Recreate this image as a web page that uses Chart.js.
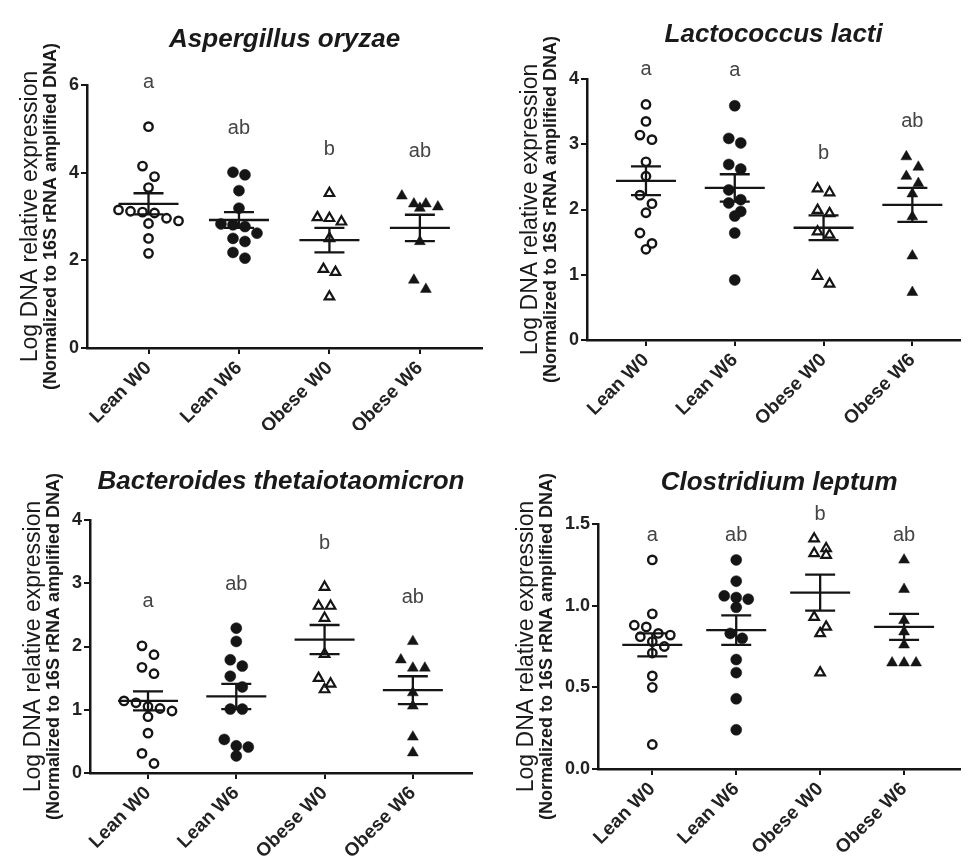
<!DOCTYPE html>
<html>
<head>
<meta charset="utf-8">
<script src="https://cdn.jsdelivr.net/npm/chart.js@4.4.1/dist/chart.umd.min.js"></script>
<style>
  body { margin: 0; background: #fff; }
  #lienzo { position: relative; width: 968px; height: 862px; background: #fff; }
  canvas { position: absolute; }
</style>
</head>
<body>
<div id="lienzo">
  <canvas id="c1" width="490" height="430" style="left:0;top:0"></canvas>
  <canvas id="c2" width="478" height="430" style="left:490px;top:0"></canvas>
  <canvas id="c3" width="490" height="432" style="left:0;top:430px"></canvas>
  <canvas id="c4" width="478" height="432" style="left:490px;top:430px"></canvas>
</div>
<script>
var grupos = ['Lean W0', 'Lean W6', 'Obese W0', 'Obese W6'];
var tituloY1 = 'Log DNA relative expression';
var tituloY2 = '(Normalized to 16S rRNA amplified DNA)';

// Aspergillus oryzae
var aoLeanW0 = [5.05, 4.15, 3.91, 3.66, 3.15, 3.12, 3.10, 3.08, 2.96, 2.90, 2.84, 2.50, 2.16];
var aoLeanW6 = [4.01, 3.95, 3.59, 3.19, 2.83, 2.81, 2.77, 2.62, 2.50, 2.43, 2.18, 2.05];
var aoObeseW0 = [3.53, 2.98, 2.96, 2.88, 2.50, 1.80, 1.73, 1.17];
var aoObeseW6 = [3.47, 3.29, 3.29, 3.22, 3.19, 2.43, 1.55, 1.34];
var aoMedia = [3.29, 2.92, 2.46, 2.74];
var aoSem = [0.24, 0.18, 0.28, 0.30];
var aoLetras = ['a', 'ab', 'b', 'ab'];

// Lactococcus lacti
var llLeanW0 = [3.61, 3.35, 3.14, 3.07, 2.73, 2.51, 2.22, 2.09, 1.95, 1.64, 1.48, 1.39];
var llLeanW6 = [3.59, 3.09, 3.02, 2.69, 2.62, 2.30, 2.15, 2.10, 1.97, 1.90, 1.64, 0.92];
var llObeseW0 = [2.32, 2.26, 1.99, 1.94, 1.66, 1.61, 0.98, 0.86];
var llObeseW6 = [2.81, 2.65, 2.51, 2.40, 2.24, 1.89, 1.29, 0.73];
var llMedia = [2.44, 2.33, 1.72, 2.07];
var llSem = [0.22, 0.21, 0.19, 0.26];
var llLetras = ['a', 'a', 'b', 'ab'];

// Bacteroides thetaiotaomicron
var btLeanW0 = [2.01, 1.87, 1.67, 1.57, 1.14, 1.11, 1.05, 1.02, 0.98, 0.89, 0.63, 0.31, 0.15];
var btLeanW6 = [2.29, 2.08, 1.79, 1.69, 1.53, 1.36, 1.01, 1.01, 0.53, 0.43, 0.41, 0.27];
var btObeseW0 = [2.94, 2.64, 2.64, 2.45, 1.88, 1.50, 1.41, 1.32];
var btObeseW6 = [2.08, 1.79, 1.66, 1.66, 1.27, 1.06, 0.57, 0.32];
var btMedia = [1.14, 1.21, 2.11, 1.31];
var btSem = [0.15, 0.20, 0.23, 0.22];
var btLetras = ['a', 'ab', 'b', 'ab'];

// Clostridium leptum
var clLeanW0 = [1.28, 0.95, 0.88, 0.87, 0.83, 0.82, 0.81, 0.78, 0.75, 0.71, 0.57, 0.50, 0.15];
var clLeanW6 = [1.28, 1.15, 1.06, 1.05, 1.04, 0.99, 0.83, 0.80, 0.67, 0.59, 0.43, 0.24];
var clObeseW0 = [1.41, 1.35, 1.32, 1.31, 0.93, 0.87, 0.83, 0.59];
var clObeseW6 = [1.28, 1.10, 0.91, 0.84, 0.76, 0.65, 0.65, 0.65];
var clMedia = [0.76, 0.85, 1.08, 0.87];
var clSem = [0.07, 0.09, 0.11, 0.08];
var clLetras = ['a', 'ab', 'b', 'ab'];

var FUENTE = '"Liberation Sans", Arial, sans-serif';
var NEGRO = '#151515';
var SEP_X = 12;  // separacion horizontal en una fila del enjambre (px)
var SEP_Y = 11;  // puntos mas cerca que esto en vertical comparten fila (px)

Chart.defaults.font.family = FUENTE;

// marcador de cada grupo
var marcadores = [
    { pointStyle: 'circle', radius: 4.2, bg: 'rgba(0,0,0,0)', bw: 2.4 },
    { pointStyle: 'circle', radius: 5.5, bg: NEGRO, bw: 0.5 },
    { pointStyle: 'triangle', radius: 5.5, bg: 'rgba(0,0,0,0)', bw: 2.2 },
    { pointStyle: 'triangle', radius: 6.3, bg: NEGRO, bw: 0.5 }
];

var paneles = [
    { id: 'c1', titulo: 'Aspergillus oryzae', series: [aoLeanW0, aoLeanW6, aoObeseW0, aoObeseW6],
      medias: aoMedia, sems: aoSem, letras: aoLetras, ymax: 6, paso: 2, dec: 0,
      xmin: 0.32, xmax: 4.69, anchoY: 87, altoX: 82, derecha: 3, tCentro: 40, arriba: 85, sepLetra: 44 },
    { id: 'c2', titulo: 'Lactococcus lacti', series: [llLeanW0, llLeanW6, llObeseW0, llObeseW6],
      medias: llMedia, sems: llSem, letras: llLetras, ymax: 4, paso: 1, dec: 0,
      xmin: 0.336, xmax: 4.54, anchoY: 97, altoX: 90, derecha: 1, tCentro: 35, arriba: 79, sepLetra: 35 },
    { id: 'c3', titulo: 'Bacteroides thetaiotaomicron', series: [btLeanW0, btLeanW6, btObeseW0, btObeseW6],
      medias: btMedia, sems: btSem, letras: btLetras, ymax: 4, paso: 1, dec: 0,
      xmin: 0.343, xmax: 4.67, anchoY: 90, altoX: 89, derecha: 18, tCentro: 52, arriba: 90, sepLetra: 44 },
    { id: 'c4', titulo: 'Clostridium leptum', series: [clLeanW0, clLeanW6, clObeseW0, clObeseW6],
      medias: clMedia, sems: clSem, letras: clLetras, ymax: 1.5, paso: 0.5, dec: 1,
      xmin: 0.353, xmax: 4.67, anchoY: 108, altoX: 93, derecha: 3, tCentro: 53, arriba: 94, sepLetra: 24 }
];

// media +/- SEM y letras de significancia
var pluginMedias = {
    id: 'medias',
    afterDatasetsDraw: function (chart, args, op) {
        var ctx = chart.ctx, x = chart.scales.x, y = chart.scales.y;
        ctx.save();
        ctx.strokeStyle = NEGRO;
        ctx.lineWidth = 2.3;
        op.medias.forEach(function (m, i) {
            var cx = x.getPixelForValue(i + 1);
            var ym = y.getPixelForValue(m);
            var ya = y.getPixelForValue(m + op.sems[i]);
            var yb = y.getPixelForValue(m - op.sems[i]);
            ctx.beginPath();
            ctx.moveTo(cx - 30, ym); ctx.lineTo(cx + 30, ym);
            ctx.moveTo(cx - 15, ya); ctx.lineTo(cx + 15, ya);
            ctx.moveTo(cx - 15, yb); ctx.lineTo(cx + 15, yb);
            ctx.moveTo(cx, ya); ctx.lineTo(cx, yb);
            ctx.stroke();
        });
        ctx.fillStyle = '#444';
        ctx.font = '20px ' + FUENTE;
        ctx.textAlign = 'center';
        ctx.textBaseline = 'middle';
        op.letras.forEach(function (l, i) {
            var tope = Math.max.apply(null, op.series[i]);
            ctx.fillText(l, x.getPixelForValue(i + 1), y.getPixelForValue(tope) - op.sepLetra);
        });
        ctx.restore();
    },
    afterDraw: function (chart) {
        var ctx = chart.ctx, area = chart.chartArea, ys = chart.scales.y;
        ctx.save();
        ctx.font = 'bold 18px ' + FUENTE;
        var maxW = 0;
        ys.ticks.forEach(function (t) { maxW = Math.max(maxW, ctx.measureText(t.label).width); });
        var xChica = area.left - 8 - maxW - 18;
        var xGrande = xChica - 20;
        var cy = (area.top + area.bottom) / 2;
        ctx.fillStyle = '#1a1a1a';
        ctx.textAlign = 'center';
        ctx.textBaseline = 'middle';
        ctx.translate(xGrande, cy);
        ctx.rotate(-Math.PI / 2);
        ctx.font = '23px ' + FUENTE;
        ctx.fillText(tituloY1, 0, 0);
        ctx.font = 'bold 18px ' + FUENTE;
        ctx.fillText(tituloY2, 0, xChica - xGrande);
        ctx.restore();
    }
};

// reparte los puntos de cada grupo en filas simetricas, como un diagrama de puntos
function enjambre(chart) {
    var xs = chart.scales.x, ys = chart.scales.y;
    var unidad = xs.getPixelForValue(2) - xs.getPixelForValue(1);
    chart.data.datasets.forEach(function (ds, g) {
        var nuevos = ds.data.map(function (p) { return { x: p.x, y: p.y, py: ys.getPixelForValue(p.y) }; });
        var orden = nuevos.slice().sort(function (a, b) { return a.py - b.py; });
        var filas = [];
        orden.forEach(function (p) {
            var fila = filas[filas.length - 1];
            if (fila && p.py - fila[0].py < SEP_Y) fila.push(p);
            else filas.push([p]);
        });
        filas.forEach(function (fila) {
            fila.forEach(function (p, i) {
                var dx = (i - (fila.length - 1) / 2) * SEP_X;
                p.x = g + 1 + dx / unidad;
            });
        });
        ds.data = nuevos.map(function (p) { return { x: p.x, y: p.y }; });
    });
    chart.update('none');
}

function crearPanel(p) {
    var datasets = p.series.map(function (valores, g) {
        var m = marcadores[g];
        return {
            label: grupos[g],
            data: valores.map(function (v) { return { x: g + 1, y: v }; }),
            pointStyle: m.pointStyle,
            pointRadius: m.radius,
            pointBackgroundColor: m.bg,
            pointBorderColor: NEGRO,
            pointBorderWidth: m.bw,
            showLine: false,
            clip: false
        };
    });
    var chart = new Chart(document.getElementById(p.id).getContext('2d'), {
        type: 'scatter',
        data: { datasets: datasets },
        options: {
            responsive: false,
            animation: false,
            layout: { padding: { left: 0, top: 0, bottom: 0, right: p.derecha } },
            plugins: {
                legend: { display: false },
                tooltip: { enabled: false },
                title: {
                    display: true,
                    text: p.titulo,
                    fullSize: false,
                    color: '#1a1a1a',
                    font: { size: 26, weight: 'bold', style: 'italic', lineHeight: 1.2 },
                    padding: { top: p.tCentro - 15.6, bottom: p.arriba - p.tCentro - 15.6 }
                },
                medias: { medias: p.medias, sems: p.sems, letras: p.letras, series: p.series, sepLetra: p.sepLetra }
            },
            scales: {
                x: {
                    type: 'linear',
                    min: p.xmin,
                    max: p.xmax,
                    afterBuildTicks: function (s) {
                        s.ticks = grupos.map(function (g, i) { return { value: i + 1 }; });
                    },
                    afterFit: function (s) { s.height = p.altoX; },
                    ticks: {
                        autoSkip: false,
                        minRotation: 45,
                        maxRotation: 45,
                        padding: 3,
                        color: '#222',
                        font: { size: 19, weight: 'bold' },
                        callback: function (v) { return grupos[Math.round(v) - 1]; }
                    },
                    grid: { drawOnChartArea: false, tickLength: 6, color: NEGRO, lineWidth: 2 },
                    border: { display: true, color: NEGRO, width: 2.5 }
                },
                y: {
                    min: 0,
                    max: p.ymax,
                    afterFit: function (s) { s.width = p.anchoY; },
                    ticks: {
                        stepSize: p.paso,
                        padding: 2,
                        color: '#222',
                        font: { size: 18, weight: 'bold' },
                        callback: function (v) { return v.toFixed(p.dec); }
                    },
                    grid: { drawOnChartArea: false, tickLength: 6, color: NEGRO, lineWidth: 2 },
                    border: { display: true, color: NEGRO, width: 2.5 }
                }
            }
        },
        plugins: [pluginMedias]
    });
    enjambre(chart);
    return chart;
}

paneles.forEach(crearPanel);
</script>
</body>
</html>
